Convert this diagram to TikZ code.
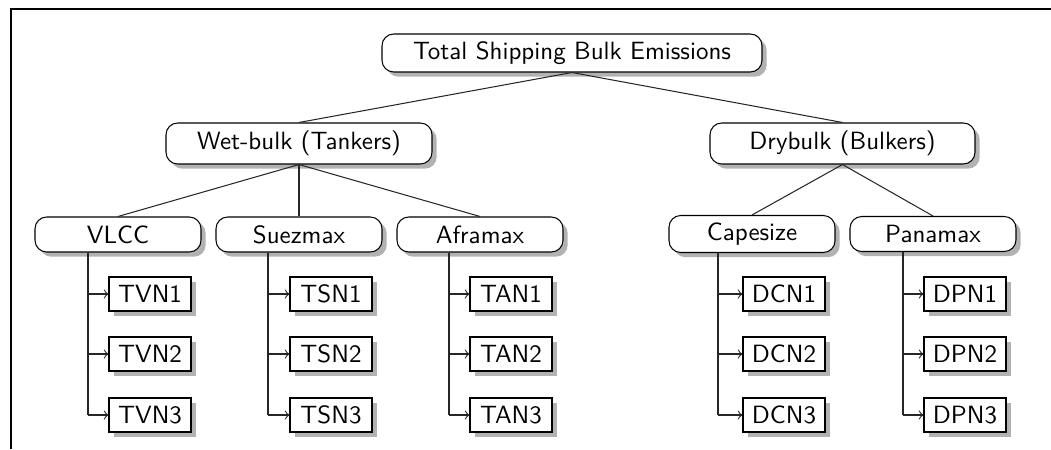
\documentclass[tikz,border=0pt]{standalone}
\usetikzlibrary{shadows}
\begin{document}
\begin{tikzpicture}[x=0.0135cm,y=-0.0135cm,
  font=\sffamily\fontsize{9.6}{11.5}\selectfont,
  rbox/.style={draw, thin, rounded corners=4.5pt, fill=white, inner sep=0pt,
    minimum width=#1*0.0135cm, drop shadow={shadow xshift=1.8pt, shadow yshift=-1.8pt, fill=black!30, opacity=1}},
  leaf/.style={draw, thin, fill=white, inner sep=0pt, minimum width=82*0.0135cm, minimum height=34*0.0135cm,
    drop shadow={shadow xshift=2pt, shadow yshift=-2pt, fill=black!30, opacity=1}},
  conn/.style={thin, draw=black!85},
  arr/.style={thin, draw=black!85, ->},
  frame/.style={line width=0.6pt}]
\useasboundingbox (0,0) rectangle (1051,449);
\coordinate (fa) at (11,449);
\coordinate (fb) at (11,9);
\coordinate (fc) at (1051,9);
\draw[frame] (fa) -- (fb) -- (fc);

\node[rbox=380, minimum height=38*0.0135cm] (root) at (572,53) {Total Shipping Bulk Emissions};
\node[rbox=266, minimum height=41*0.0135cm] (wet) at (299,143.5) {Wet-bulk (Tankers)};
\node[rbox=265, minimum height=41*0.0135cm] (dry) at (842.5,143.5) {Drybulk (Bulkers)};
\node[rbox=166, minimum height=35*0.0135cm] (vlcc) at (118,234.5) {VLCC};
\node[rbox=166, minimum height=35*0.0135cm] (suez) at (299,234.5) {Suezmax};
\node[rbox=166, minimum height=35*0.0135cm] (afra) at (480,234.5) {Aframax};
\node[rbox=166, minimum height=37*0.0135cm] (cape) at (752,234) {Capesize};
\node[rbox=166, minimum height=35*0.0135cm] (pana) at (933,234) {Panamax};

\draw[conn] (root.south) -- (wet.north);
\draw[conn] (root.south) -- (dry.north);
\draw[conn] (wet.south) -- (vlcc.north);
\draw[conn] (wet.south) -- (suez.north);
\draw[conn] (wet.south) -- (afra.north);
\draw[conn] (dry.south) -- (cape.north);
\draw[conn] (dry.south) -- (pana.north);

\foreach \p/\name/\lx/\tx in {vlcc/TVN/150/88, suez/TSN/331/268, afra/TAN/511/449, cape/DCN/784/718, pana/DPN/965/903}{
  \node[leaf] (\name1) at (\lx,294) {\name1};
  \node[leaf] (\name2) at (\lx,354) {\name2};
  \node[leaf] (\name3) at (\lx,415) {\name3};
  \coordinate (\name t) at (\tx,0);
  \draw[conn] (\p.south -| \name t) -- (\name3.west -| \name t);
  \draw[arr] (\name1.west -| \name t) -- (\name1.west);
  \draw[arr] (\name2.west -| \name t) -- (\name2.west);
  \draw[arr] (\name3.west -| \name t) -- (\name3.west);
}
\end{tikzpicture}
\end{document}
